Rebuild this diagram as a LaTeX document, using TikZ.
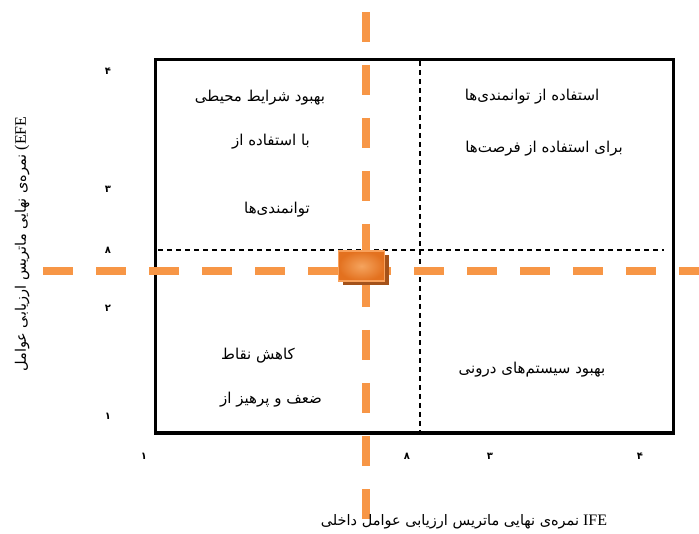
\documentclass[tikz,border=0pt]{standalone}
\usepackage{fontspec}
\setmainfont{Liberation Serif}
\newfontfamily\arabicfont[Script=Arabic]{DejaVu Sans}
\TeXXeTstate=1
\usepackage{tikz}
\usetikzlibrary{shadows}
\definecolor{axisorange}{HTML}{F79646}
\definecolor{boxedge}{HTML}{F9A25C}
\definecolor{boxinner}{HTML}{F5A45E}
\definecolor{boxouter}{HTML}{E3711F}
\definecolor{boxshadow}{HTML}{A4521A}

\begin{document}
\begin{tikzpicture}[
		x=1pt, y=-1pt,
		quad/.style={font=\arabicfont\fontsize{15}{17}\selectfont, inner sep=0pt},
		tick/.style={font=\arabicfont\bfseries\fontsize{10}{11}\selectfont, inner sep=0pt},
		axislbl/.style={font=\fontsize{16}{18}\selectfont, inner sep=0pt},
		outerbox/.style={draw=black, line width=3.5pt},
		divline/.style={draw=black, line width=1.2pt, dash pattern=on 5pt off 4pt},
		orangeaxis/.style={draw=axisorange, line width=8pt, dash pattern=on 30pt off 23pt},
		posbox/.style={draw=boxedge, line width=1.5pt, inner color=boxinner, outer color=boxouter,
			minimum width=46pt, minimum height=30pt,
			drop shadow={shadow xshift=4pt, shadow yshift=-4pt, fill=boxshadow, opacity=1}}
	]
		\useasboundingbox (0,0) rectangle (699,534);

		% frame and quadrant lines
		\coordinate (nw) at (155.5,59.5);
		\coordinate (se) at (673.5,433);
		\coordinate (midtop) at (420,61);
		\coordinate (midbot) at (420,431);
		\coordinate (midleft) at (158,250);
		\coordinate (midright) at (664,250);
		\draw[outerbox] (nw) rectangle (se);
		\draw[divline] (midtop) -- (midbot);
		\draw[divline] (midleft) -- (midright);

		% orange position lines
		\coordinate (vtop) at (366,12);
		\coordinate (vbot) at (366,519);
		\coordinate (hleft) at (43,271);
		\coordinate (hright) at (699,271);
		\draw[orangeaxis] (vtop) -- (vbot);
		\draw[orangeaxis] (hleft) -- (hright);
		\node[posbox] (pos) at (361.5,266) {};

		% quadrant texts
		\node[quad] (tl1) at (260,98) {\beginR بهبود شرایط محیطی\endR};
		\node[quad] (tl2) at (271,142) {\beginR با استفاده از\endR};
		\node[quad] (tl3) at (277,210) {\beginR توانمندی‌ها\endR};
		\node[quad] (tr1) at (532,97) {\beginR استفاده از توانمندی‌ها\endR};
		\node[quad] (tr2) at (544,149) {\beginR برای استفاده از فرصت‌ها\endR};
		\node[quad] (bl1) at (258,356) {\beginR کاهش نقاط\endR};
		\node[quad] (bl2) at (271,400) {\beginR ضعف و پرهیز از\endR};
		\node[quad] (br1) at (532,370) {\beginR بهبود سیستم‌های درونی\endR};

		% tick labels
		\node[tick] (y4) at (108,71) {۴};
		\node[tick] (y3) at (108,189) {۳};
		\node[tick] (y8) at (108,250) {۸};
		\node[tick] (y2) at (108,308) {۲};
		\node[tick] (y1) at (108,416) {۱};
		\node[tick] (x1) at (144,456) {۱};
		\node[tick] (x8) at (407,456) {۸};
		\node[tick] (x3) at (490,456) {۳};
		\node[tick] (x4) at (640,456) {۴};

		% axis titles
		\node[axislbl] (ife) at (464,522) {{\arabicfont\fontsize{14.5}{17}\selectfont\beginR نمره‌ی نهایی ماتریس ارزیابی عوامل داخلی\endR} IFE};
		\node[axislbl, rotate=90] (efe) at (22,244) {{\arabicfont\fontsize{14.5}{17}\selectfont\beginR نمره‌ی نهایی ماتریس ارزیابی عوامل\endR} (EFE};
	\end{tikzpicture}
\end{document}
